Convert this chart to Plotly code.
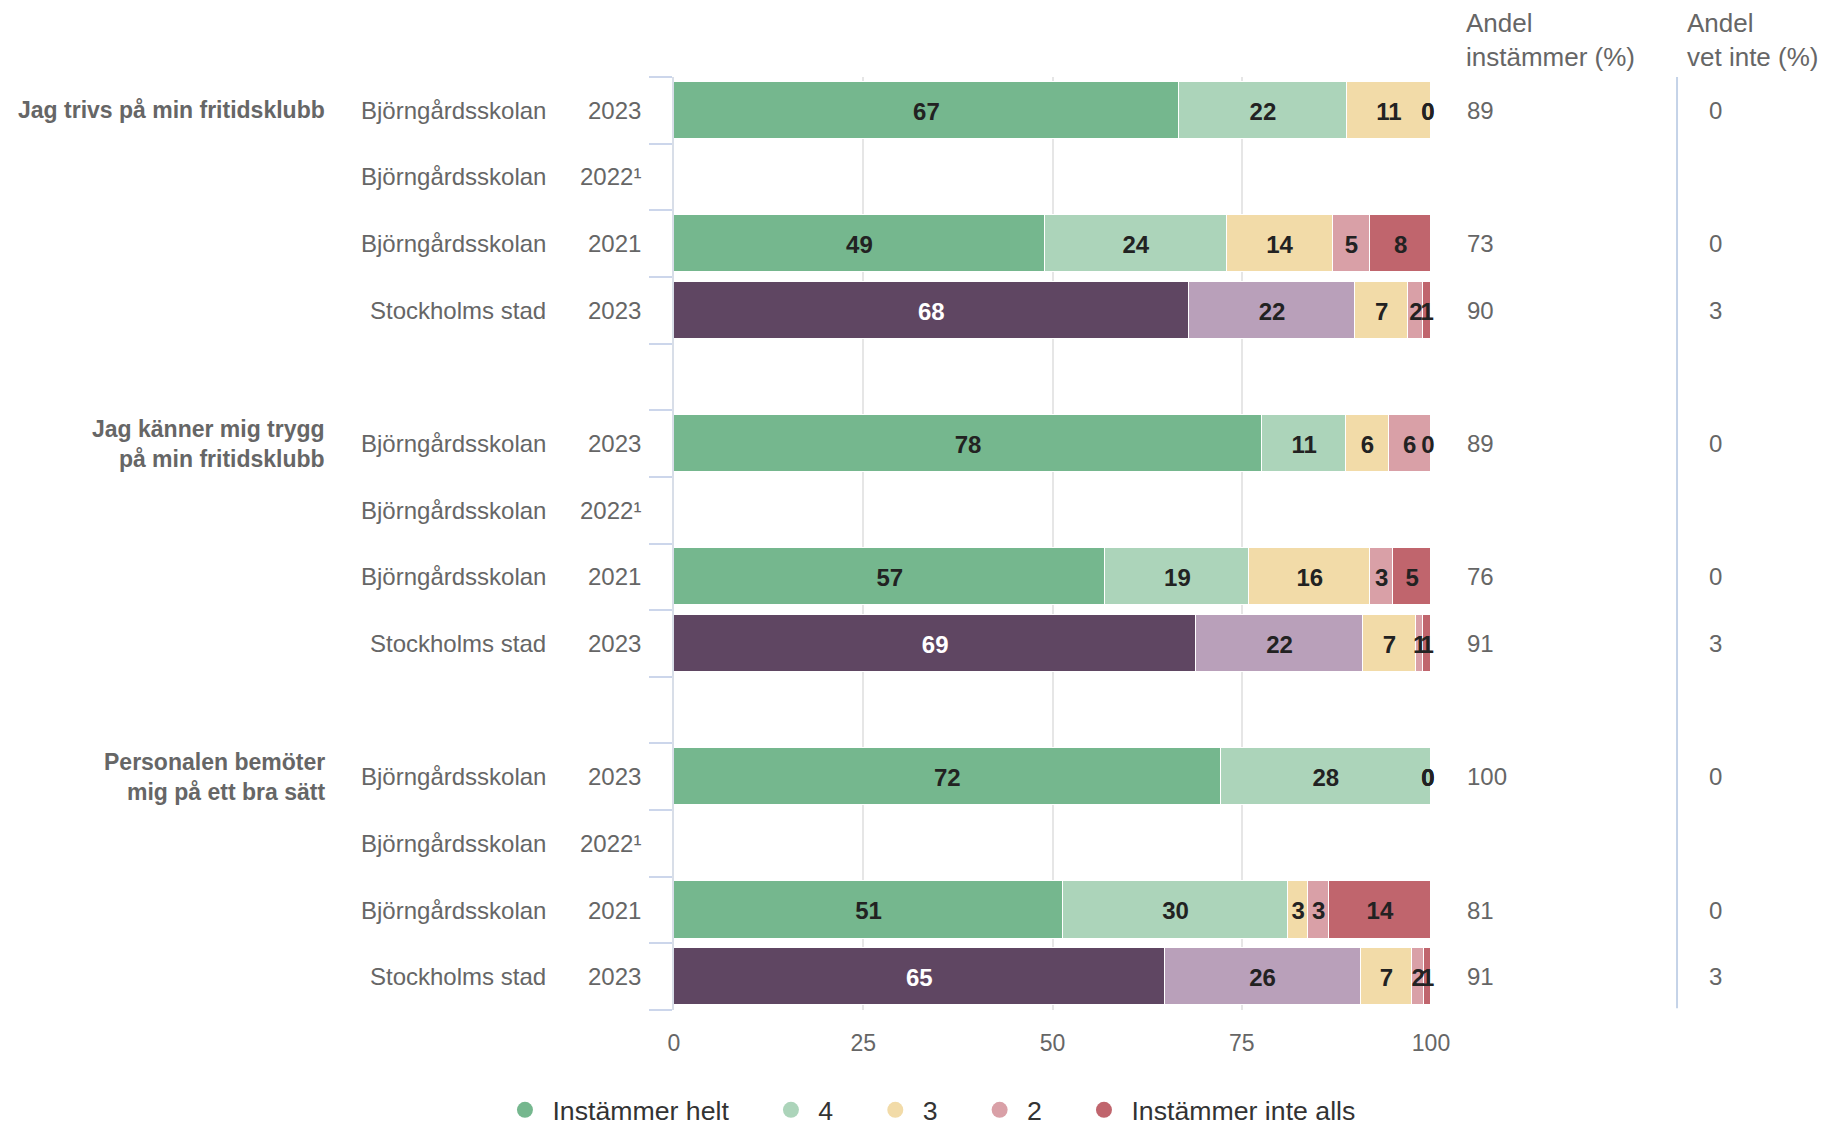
import plotly.graph_objects as go

# ---------------- data ----------------
groups = ["Jag trivs på min fritidsklubb",
          "Jag känner mig trygg<br>på min fritidsklubb",
          "Personalen bemöter<br>mig på ett bra sätt"]
units = ["Björngårdsskolan", "Björngårdsskolan", "Björngårdsskolan", "Stockholms stad"]
years = ["2023", "2022¹", "2021", "2023"]
series_names = ["Instämmer helt", "4", "3", "2", "Instämmer inte alls"]

# 12 rows, group by group (row order: units/years above); None = no data
s_helt = [66.7, None, 49, 68, 77.7, None, 57, 69, 72.2, None, 51.4, 64.8]
s_4 = [22.2, None, 24, 22, 11.1, None, 19, 22, 27.8, None, 29.7, 25.9]
s_3 = [11.1, None, 14, 7, 5.6, None, 16, 7, 0, None, 2.7, 6.8]
s_2 = [0, None, 5, 2, 5.6, None, 3, 1, 0, None, 2.7, 1.6]
s_inte = [0, None, 8, 1, 0, None, 5, 1, 0, None, 13.5, 0.9]
andel_instammer = [89, None, 73, 90, 89, None, 76, 91, 100, None, 81, 91]
andel_vet_inte = [0, None, 0, 3, 0, None, 0, 3, 0, None, 0, 3]

# ---------------- style ----------------
FONT = "Liberation Sans, Arial, Helvetica, sans-serif"
GRAY = "#666666"
colors_school = ["#75b78e", "#acd4ba", "#f2dba8", "#d9a0a7", "#c0656d"]
colors_city = ["#5f4662", "#b9a0ba", "#f2dba8", "#d9a0a7", "#c0656d"]

series = [s_helt, s_4, s_3, s_2, s_inte]
n_rows = len(units)
slots_per_group = n_rows + 1
n_slots = len(groups) * slots_per_group - 1

row_slot = []
row_is_city = []
for g in range(len(groups)):
    for r in range(n_rows):
        row_slot.append(g * slots_per_group + r)
        row_is_city.append(units[r] == "Stockholms stad")

fig = go.Figure()

# stacked bars
for k, (name, vals) in enumerate(zip(series_names, series)):
    cols = [colors_city[k] if c else colors_school[k] for c in row_is_city]
    fig.add_trace(go.Bar(
        x=vals, y=row_slot, orientation="h", name=name,
        marker=dict(color=cols, line=dict(color="white", width=1.5)),
        width=0.86, showlegend=False, hoverinfo="x+name",
    ))

# data labels at segment centres
LABEL_DY = 0.05
base = [0.0] * len(row_slot)
for k, vals in enumerate(series):
    xs, ys, txt, tcol = [], [], [], []
    for i, v in enumerate(vals):
        if v is None:
            continue
        xs.append(min(base[i] + v / 2, 99.6))
        ys.append(row_slot[i] + LABEL_DY)
        txt.append(str(int(round(v))))
        tcol.append("#ffffff" if (k == 0 and row_is_city[i]) else "#222222")
        base[i] += v
    fig.add_trace(go.Scatter(
        x=xs, y=ys, mode="text", text=txt,
        textfont=dict(family=FONT, size=24, color=tcol, weight="bold"),
        showlegend=False, hoverinfo="skip", cliponaxis=False,
    ))

# legend entries (circles)
PAD = "\u00a0" * 5
for k, name in enumerate(series_names):
    fig.add_trace(go.Scatter(
        x=[None], y=[None], mode="markers",
        name="\u00a0" + name + (PAD if k < len(series_names) - 1 else ""),
        marker=dict(symbol="circle", size=26, color=colors_school[k]),
    ))

annotations = []
# left labels
for g, gl in enumerate(groups):
    annotations.append(dict(
        x=-0.458, xref="paper", y=g * slots_per_group, yref="y",
        text="<b>" + gl + "</b>", showarrow=False, xanchor="right", yanchor="middle",
        align="right", font=dict(family=FONT, size=23, color=GRAY)))
for i, s in enumerate(row_slot):
    r = i % n_rows
    annotations.append(dict(
        x=-0.166, xref="paper", y=s, yref="y", text=units[r], showarrow=False,
        xanchor="right", yanchor="middle", font=dict(family=FONT, size=24, color=GRAY)))
    annotations.append(dict(
        x=-0.0406, xref="paper", y=s, yref="y", text=years[r], showarrow=False,
        xanchor="right", yanchor="middle", font=dict(family=FONT, size=24, color=GRAY)))
    if andel_instammer[i] is not None:
        annotations.append(dict(
            x=1.045, xref="paper", y=s, yref="y", text=str(andel_instammer[i]),
            showarrow=False, xanchor="left", yanchor="middle",
            font=dict(family=FONT, size=24, color=GRAY)))
    if andel_vet_inte[i] is not None:
        annotations.append(dict(
            x=1.365, xref="paper", y=s, yref="y", text=str(andel_vet_inte[i]),
            showarrow=False, xanchor="left", yanchor="middle",
            font=dict(family=FONT, size=24, color=GRAY)))

# column headers
annotations.append(dict(
    x=1.043, xref="paper", y=1.076, yref="paper", text="Andel<br>instämmer (%)",
    showarrow=False, xanchor="left", yanchor="top", align="left",
    font=dict(family=FONT, size=26, color=GRAY)))
annotations.append(dict(
    x=1.335, xref="paper", y=1.076, yref="paper", text="Andel<br>vet inte (%)",
    showarrow=False, xanchor="left", yanchor="top", align="left",
    font=dict(family=FONT, size=26, color=GRAY)))

fig.update_layout(
    width=1838, height=1126,
    margin=dict(l=674, r=407, t=77, b=116, autoexpand=False),
    barmode="stack", bargap=0,
    plot_bgcolor="white", paper_bgcolor="white",
    font=dict(family=FONT, color=GRAY),
    annotations=annotations,
    shapes=[dict(type="line", xref="paper", yref="paper", x0=1.325, x1=1.325,
                 y0=0.002, y1=1.0, line=dict(color="#c5d3e8", width=2))],
    legend=dict(orientation="h", xref="paper", yref="paper",
                x=-0.2233, xanchor="left", y=-0.1072, yanchor="middle",
                traceorder="normal",
                font=dict(family=FONT, size=26.7, color="#333333"), itemclick=False),
    xaxis=dict(range=[0, 100], tickvals=[0, 25, 50, 75, 100], showgrid=True,
               gridcolor="#e6e6e6", gridwidth=2, zeroline=False, showline=False,
               ticks="", tickfont=dict(family=FONT, size=23, color=GRAY),
               ticklabelstandoff=17, fixedrange=True),
    yaxis=dict(range=[n_slots - 0.5, -0.5], tickvals=[i - 0.5 for i in range(n_slots + 1)],
               showticklabels=False, ticks="outside", ticklen=23, tickwidth=2,
               tickcolor="#ccd6eb", showgrid=False, zeroline=False, showline=True,
               linecolor="#d8dee8", linewidth=2, fixedrange=True),
)

fig.write_html("out.html", config={"displayModeBar": False},
               post_script="document.body.style.margin='0px';")
